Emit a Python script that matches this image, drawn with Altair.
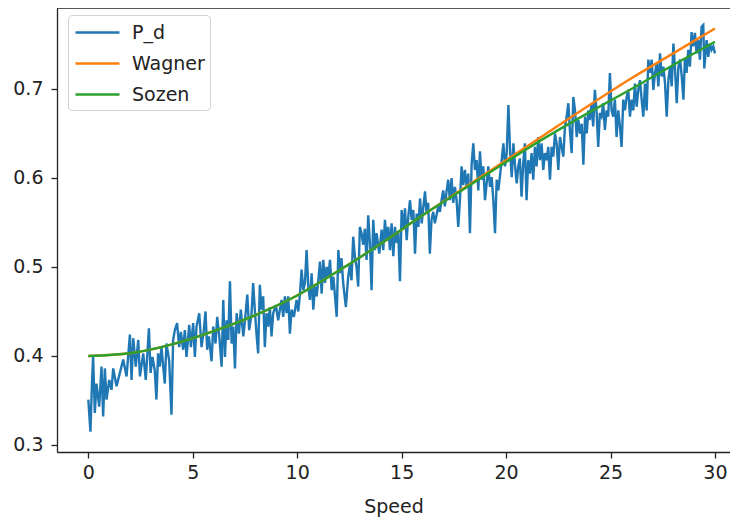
import altair as alt
import pandas as pd

# ---------------- data ----------------
speed_pd = [
    0.00, 0.10, 0.18, 0.23, 0.31, 0.39, 0.52, 0.63, 0.71, 0.79,
    0.87, 1.00, 1.11, 1.19, 1.35, 1.51, 1.67, 1.83, 1.99, 2.07,
    2.15, 2.27, 2.39, 2.47, 2.63, 2.75, 2.90, 2.98, 3.07, 3.18,
    3.26, 3.34, 3.42, 3.50, 3.66, 3.74, 3.87, 3.98, 4.06, 4.14,
    4.25, 4.35, 4.43, 4.54, 4.62, 4.70, 4.83, 4.91, 5.02, 5.10,
    5.18, 5.31, 5.42, 5.53, 5.61, 5.69, 5.77, 5.90, 5.98, 6.09,
    6.17, 6.27,
    6.38, 6.46, 6.54, 6.62, 6.70, 6.78, 6.86, 6.94, 7.02, 7.10,
    7.21, 7.30, 7.42, 7.50, 7.61, 7.70, 7.81, 7.89, 7.97, 8.05,
    8.13, 8.21, 8.29, 8.37, 8.45, 8.53, 8.61, 8.69, 8.77, 8.85,
    8.98, 9.09, 9.17, 9.25, 9.33, 9.41, 9.49, 9.57, 9.65, 9.73,
    9.84, 9.97, 10.05, 10.13, 10.21, 10.29, 10.37, 10.45, 10.53, 10.61,
    10.69, 10.77, 10.85, 10.93, 11.01, 11.09, 11.17, 11.25, 11.33, 11.41,
    11.49, 11.57, 11.65, 11.73, 11.81, 11.89, 11.97, 12.04, 12.12, 12.20,
    12.33, 12.44, 12.52, 12.60, 12.68, 12.76, 12.84, 12.92, 13.00, 13.08,
    13.16, 13.24, 13.32, 13.40, 13.48, 13.56, 13.64, 13.72, 13.80, 13.93,
    14.04, 14.12, 14.20, 14.28, 14.36, 14.44, 14.52, 14.60, 14.68, 14.76,
    14.84, 14.92, 15.00, 15.08, 15.16, 15.24, 15.32, 15.40, 15.48, 15.56,
    15.64, 15.72, 15.80, 15.88, 15.96, 16.04, 16.12, 16.19, 16.27, 16.35,
    16.43, 16.51, 16.59, 16.67, 16.75, 16.83, 16.91, 16.99, 17.07, 17.15,
    17.23, 17.31, 17.39, 17.47, 17.55, 17.63, 17.71, 17.79, 17.87, 17.95,
    18.03, 18.11, 18.19, 18.27, 18.35, 18.43, 18.51, 18.59, 18.67, 18.75,
    18.83, 18.91, 18.99, 19.07, 19.15, 19.23, 19.31, 19.39, 19.47, 19.55,
    19.63, 19.71, 19.79, 19.87, 19.95, 20.03, 20.11, 20.19, 20.27, 20.35,
    20.43, 20.51, 20.58, 20.66, 20.74, 20.82, 20.90, 20.98, 21.06, 21.14,
    21.22, 21.30, 21.38, 21.46, 21.54,
    21.62, 21.70, 21.78, 21.86, 21.94, 22.02, 22.10, 22.18, 22.26, 22.34,
    22.42, 22.50, 22.58, 22.66, 22.74, 22.82, 22.90, 22.98, 23.06, 23.14,
    23.22, 23.30, 23.38, 23.46, 23.54, 23.62, 23.70, 23.78, 23.86, 23.94,
    24.01, 24.09, 24.17, 24.25, 24.33, 24.41, 24.49, 24.57, 24.65, 24.73,
    24.81, 24.89, 24.97, 25.05, 25.13, 25.21, 25.29, 25.37, 25.45, 25.53,
    25.61, 25.69, 25.77, 25.85, 25.93, 26.01, 26.09, 26.17, 26.25, 26.33,
    26.41, 26.49, 26.57, 26.65, 26.73, 26.81, 26.89, 26.97, 27.05, 27.13,
    27.21, 27.29, 27.37, 27.45, 27.53, 27.61, 27.69, 27.77, 27.85, 27.93,
    28.01, 28.09, 28.17, 28.25, 28.33, 28.41, 28.49, 28.56, 28.64, 28.72,
    28.80, 28.88, 28.96, 29.04, 29.12, 29.20, 29.28, 29.36, 29.44, 29.49,
    29.60, 29.68, 29.76, 29.84, 29.92, 30.00,
]

p_d = [
    0.351, 0.315, 0.373, 0.399, 0.336, 0.369, 0.343, 0.388, 0.332, 0.386,
    0.351, 0.373, 0.362, 0.386, 0.366, 0.381, 0.396, 0.377, 0.424, 0.373,
    0.420, 0.388, 0.418, 0.377, 0.403, 0.373, 0.431, 0.381, 0.399, 0.384,
    0.351, 0.403, 0.388, 0.410, 0.369, 0.414, 0.395, 0.334, 0.418, 0.429,
    0.437, 0.410, 0.427, 0.407, 0.429, 0.399, 0.435, 0.410, 0.437, 0.399,
    0.433, 0.448, 0.410, 0.429, 0.450, 0.407, 0.422, 0.394, 0.433, 0.414,
    0.444, 0.422,
    0.388, 0.463, 0.399, 0.440, 0.418, 0.484, 0.414, 0.433, 0.386, 0.448,
    0.425, 0.452, 0.422, 0.440, 0.469, 0.429, 0.446, 0.482, 0.452, 0.425,
    0.403, 0.480, 0.452, 0.467, 0.410, 0.448, 0.433, 0.455, 0.422, 0.448,
    0.457, 0.440, 0.452, 0.463, 0.444, 0.467, 0.448, 0.467, 0.425, 0.452,
    0.444, 0.463, 0.450, 0.469, 0.497, 0.474, 0.482, 0.519, 0.478, 0.463,
    0.493, 0.452, 0.478, 0.467, 0.485, 0.506, 0.470, 0.508, 0.482, 0.500,
    0.489, 0.508, 0.474, 0.489, 0.467, 0.444, 0.519, 0.493, 0.510, 0.482,
    0.455, 0.489, 0.502, 0.485, 0.534, 0.512, 0.500, 0.478, 0.545, 0.538,
    0.525, 0.543, 0.508, 0.558, 0.527, 0.474, 0.553, 0.519, 0.538, 0.515,
    0.542, 0.519, 0.553, 0.530, 0.545, 0.519, 0.549, 0.512, 0.545, 0.527,
    0.538, 0.484, 0.564, 0.542, 0.566, 0.530, 0.557, 0.575, 0.553, 0.564,
    0.515, 0.560, 0.545, 0.577, 0.549, 0.568, 0.585, 0.560, 0.572, 0.515,
    0.553, 0.562, 0.549, 0.558, 0.568, 0.562, 0.575, 0.586, 0.568, 0.585,
    0.598, 0.575, 0.600, 0.572, 0.590, 0.575, 0.545, 0.575, 0.613, 0.592,
    0.609, 0.590, 0.605, 0.538, 0.615, 0.639, 0.609, 0.620, 0.586, 0.630,
    0.598, 0.613, 0.575, 0.594, 0.613, 0.590, 0.601, 0.575, 0.538, 0.598,
    0.586, 0.603, 0.620, 0.639, 0.613, 0.628, 0.682, 0.631, 0.601, 0.639,
    0.613, 0.594, 0.613, 0.622, 0.579, 0.616, 0.639, 0.575, 0.620, 0.605,
    0.628, 0.598, 0.635, 0.613, 0.646,
    0.620, 0.639, 0.609, 0.628, 0.620, 0.635, 0.598, 0.635, 0.624, 0.650,
    0.639, 0.609, 0.646, 0.635, 0.624, 0.658, 0.669, 0.684, 0.652, 0.628,
    0.691, 0.676, 0.646, 0.665, 0.650, 0.661, 0.615, 0.669, 0.650, 0.676,
    0.665, 0.684, 0.658, 0.699, 0.676, 0.635, 0.673, 0.669, 0.684, 0.654,
    0.676, 0.669, 0.718, 0.676, 0.669, 0.688, 0.646, 0.676, 0.658, 0.635,
    0.688, 0.676, 0.691, 0.699, 0.669, 0.688, 0.676, 0.706, 0.680, 0.699,
    0.710, 0.688, 0.669, 0.706, 0.676, 0.733, 0.718, 0.733, 0.699, 0.718,
    0.729, 0.703, 0.740, 0.714, 0.725, 0.706, 0.669, 0.710, 0.725, 0.703,
    0.751, 0.721, 0.684, 0.725, 0.733, 0.714, 0.688, 0.734, 0.718, 0.744,
    0.725, 0.764, 0.748, 0.763, 0.740, 0.755, 0.733, 0.770, 0.772, 0.723,
    0.755, 0.736, 0.751, 0.744, 0.748, 0.740,
]

curve_speed = [0, 2, 4, 6, 8, 10, 12, 14, 16, 18, 20, 22, 24, 26, 28, 30]
wagner = [0.400, 0.403, 0.413, 0.428, 0.446, 0.468, 0.496, 0.526, 0.558,
          0.589, 0.620, 0.651, 0.682, 0.712, 0.740, 0.768]
sozen = [0.400, 0.403, 0.413, 0.428, 0.446, 0.468, 0.496, 0.526, 0.558,
         0.588, 0.618, 0.647, 0.674, 0.700, 0.727, 0.753]

series_names = ["P_d", "Wagner", "Sozen"]
series_colors = ["#1f77b4", "#ff7f0e", "#2ca02c"]
x_ticks = [0, 5, 10, 15, 20, 25, 30]
y_ticks = [0.3, 0.4, 0.5, 0.6, 0.7]

# ---------------- chart ----------------
FONT = "DejaVu Sans"
TXT = "#222222"
W, H = 673, 444

df_pd = pd.DataFrame({"Speed": speed_pd, "value": p_d, "series": "P_d"})
df_w = pd.DataFrame({"Speed": curve_speed, "value": wagner, "series": "Wagner"})
df_s = pd.DataFrame({"Speed": curve_speed, "value": sozen, "series": "Sozen"})

x_enc = alt.X(
    "Speed:Q",
    scale=alt.Scale(domain=[-1.5, 30.72], nice=False, zero=False),
    axis=alt.Axis(values=x_ticks, title="Speed", format="d",
                  labelPadding=5, titlePadding=15),
)
y_enc = alt.Y(
    "value:Q",
    scale=alt.Scale(domain=[0.2921, 0.791], nice=False, zero=False),
    axis=alt.Axis(values=y_ticks, format=".1f", title=None, labelPadding=8),
)
color_enc = alt.Color(
    "series:N",
    scale=alt.Scale(domain=series_names, range=series_colors),
    legend=alt.Legend(
        title=None, orient="none", legendX=11, legendY=7,
        symbolType="M-3,0H1", symbolSize=484, symbolStrokeWidth=2.5,
        symbolOffset=23,
        labelFont=FONT, labelFontSize=19, labelColor=TXT, labelOffset=11,
        padding=5, rowPadding=8, strokeColor="#d0d0d0",
        fillColor="rgba(255,255,255,0.8)", cornerRadius=4,
    ),
)

line_pd = alt.Chart(df_pd).mark_line(strokeWidth=2.4).encode(
    x=x_enc, y=y_enc, color=color_enc)
line_w = alt.Chart(df_w).mark_line(strokeWidth=2.4, interpolate="monotone").encode(
    x=x_enc, y=y_enc, color=color_enc)
line_s = alt.Chart(df_s).mark_line(strokeWidth=2.4, interpolate="monotone").encode(
    x=x_enc, y=y_enc, color=color_enc)
top_spine = alt.Chart(pd.DataFrame({"k": [0]})).mark_rule(
    color=TXT, strokeWidth=1.3).encode(
    x=alt.value(0), x2=alt.value(W), y=alt.value(0))

chart = alt.layer(line_pd, line_w, line_s, top_spine).properties(
    width=W, height=H,
    autosize=alt.AutoSizeParams(type="none"),
    padding={"left": 49, "top": 0, "right": 0, "bottom": 68},
).configure_view(stroke=None).configure_axis(
    grid=False,
    domainColor=TXT, domainWidth=1.3,
    tickColor=TXT, tickWidth=1.3, tickSize=6,
    labelFont=FONT, labelFontSize=19, labelColor=TXT,
    titleFont=FONT, titleFontSize=19, titleColor=TXT, titleFontWeight="normal",
)

chart.save("out.html", embed_options={"renderer": "svg", "actions": False})
